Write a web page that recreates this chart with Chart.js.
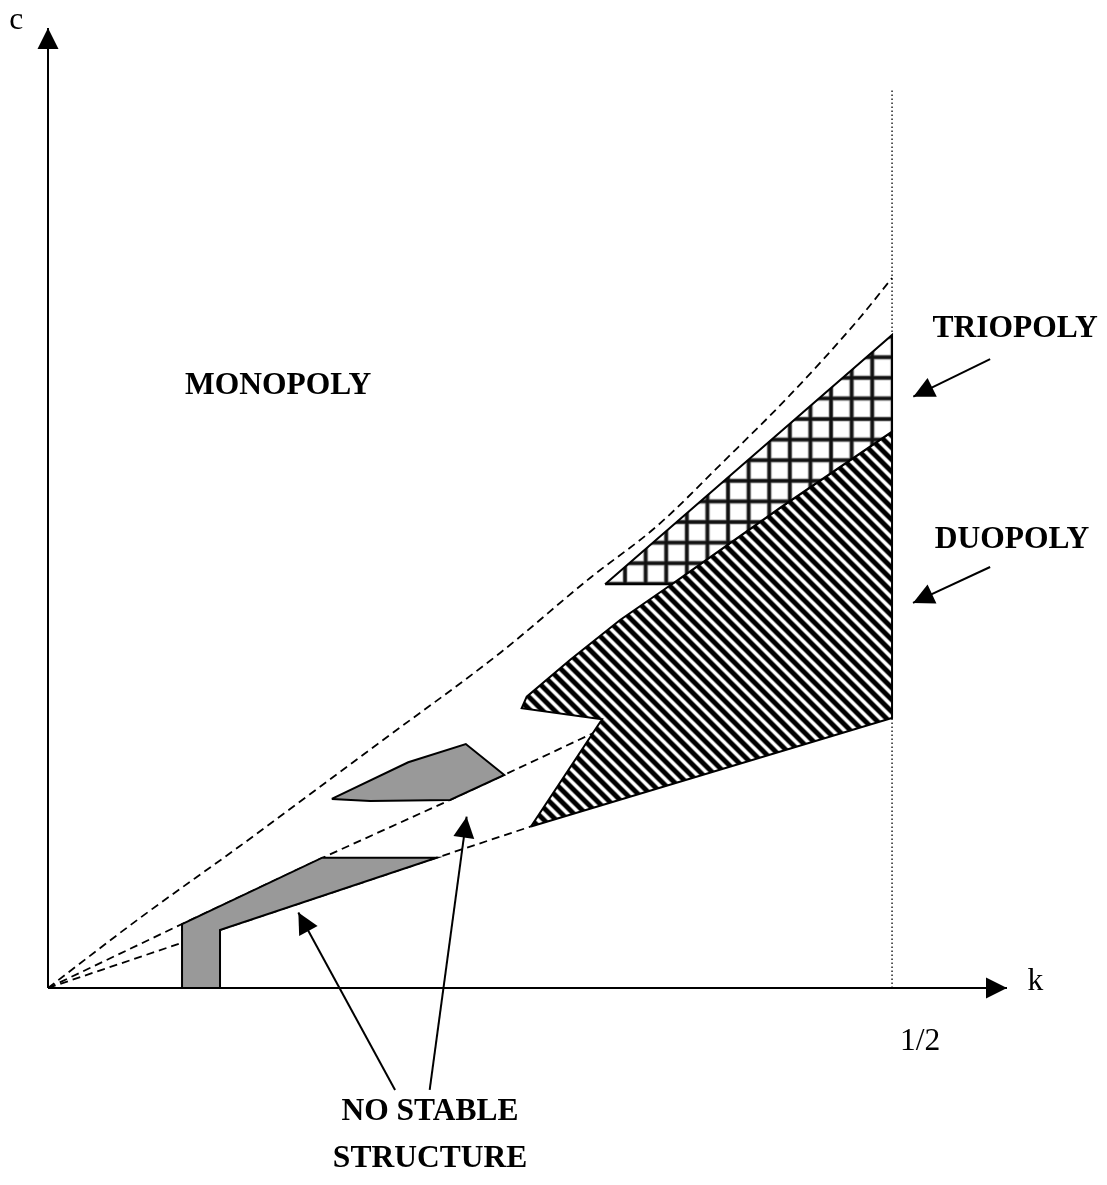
<!DOCTYPE html>
<html>
<head>
<meta charset="utf-8">
<script src="https://cdn.jsdelivr.net/npm/chart.js@4.4.0/dist/chart.umd.min.js"></script>
<style>
  html, body { margin: 0; padding: 0; background: #fff; }
  canvas { display: block; }
</style>
</head>
<body>
<canvas id="myChart" width="1107" height="1185"></canvas>
<script>
// k on the horizontal axis, c on the vertical axis (same unit on both)
const kMax = 0.5681;
const cMax = 0.5687;

// dashed boundaries starting at the origin
const monopolyK = [0, 0.0545, 0.1137, 0.1730, 0.1985, 0.2678, 0.3211, 0.3608, 0.3999, 0.4396, 0.4793, 0.5];
const monopolyC = [0, 0.0415, 0.0841, 0.1280, 0.1469, 0.1985, 0.2429, 0.2737, 0.3116, 0.3513, 0.3951, 0.4206];
const middleK = [0, 0.0794, 0.1623, 0.2382, 0.2701, 0.3258];
const middleC = [0, 0.0379, 0.0770, 0.1114, 0.1262, 0.1523];
const lowerK = [0, 0.1019, 0.2303, 0.2861];
const lowerC = [0, 0.0344, 0.0772, 0.0957];

// regions
const duopolyK = [0.2861, 0.3282, 0.2806, 0.2836, 0.3092, 0.3389, 0.3695, 0.4336, 0.5, 0.5, 0.2861];
const duopolyC = [0.0957, 0.1592, 0.1657, 0.1726, 0.1943, 0.2180, 0.2392, 0.2844, 0.3296, 0.1600, 0.0957];
const triopolyK = [0.3300, 0.3695, 0.4336, 0.5, 0.5, 0.3300];
const triopolyC = [0.2392, 0.2392, 0.2844, 0.3296, 0.3868, 0.2392];
const noStableLowK = [0.0794, 0.0794, 0.1625, 0.2303, 0.1019, 0.1019, 0.0794];
const noStableLowC = [0, 0.0379, 0.0772, 0.0772, 0.0344, 0, 0];
const noStableHighK = [0.1681, 0.2134, 0.2475, 0.2703, 0.2382, 0.1908, 0.1681];
const noStableHighC = [0.1120, 0.1337, 0.1445, 0.1262, 0.1114, 0.1108, 0.1120];

// k = 1/2 line and axes
const halfK = [0.5, 0.5];
const halfC = [0, 0.5320];
const xAxisK = [0, kMax];
const xAxisC = [0, 0];
const yAxisK = [0, 0];
const yAxisC = [0, cMax];

// pointer arrows (start, tip)
const triArrowK = [0.5581, 0.5126];
const triArrowC = [0.3726, 0.3503];
const duoArrowK = [0.5581, 0.5124];
const duoArrowC = [0.2494, 0.2281];
const nss1K = [0.2056, 0.1483];
const nss1C = [-0.0604, 0.0447];
const nss2K = [0.2261, 0.2480];
const nss2C = [-0.0604, 0.1015];

// text labels
const labelText = ['c', 'k', '1/2', 'MONOPOLY', 'TRIOPOLY', 'DUOPOLY', 'NO STABLE', 'STRUCTURE'];
const labelK = [-0.0188, 0.5849, 0.5166, 0.1363, 0.5729, 0.5711, 0.2263, 0.2263];
const labelC = [0.5680, -0.0012, -0.0367, 0.3519, 0.3855, 0.2607, -0.0782, -0.1060];
const labelBold = [false, false, false, true, true, true, true, true];

function pts(ks, cs) {
    return ks.map((k, i) => ({ x: k, y: cs[i] }));
}

// diagonal stripes for the duopoly area
function stripePattern() {
    const t = document.createElement('canvas');
    t.width = 12; t.height = 12;
    const g = t.getContext('2d');
    g.fillStyle = '#fff';
    g.fillRect(0, 0, 12, 12);
    [[5.8, '#8c8c8c'], [4.2, '#000']].forEach(([w, col]) => {
        g.strokeStyle = col;
        g.lineWidth = w;
        [-12, 0, 12].forEach(o => {
            g.beginPath();
            g.moveTo(o - 3, -3);
            g.lineTo(o + 15, 15);
            g.stroke();
        });
    });
    return g.createPattern(t, 'repeat');
}

// square grid for the triopoly area
function gridPattern() {
    const n = 21;
    const t = document.createElement('canvas');
    t.width = n; t.height = n;
    const g = t.getContext('2d');
    g.fillStyle = '#fff';
    g.fillRect(0, 0, n, n);
    g.fillStyle = '#8a8a8a';
    g.fillRect(0, 0, 2.4, n); g.fillRect(n - 2.4, 0, 2.4, n);
    g.fillRect(0, 0, n, 2.4); g.fillRect(0, n - 2.4, n, 2.4);
    g.fillStyle = '#111';
    g.fillRect(0, 0, 1.6, n); g.fillRect(n - 1.6, 0, 1.6, n);
    g.fillRect(0, 0, n, 1.6); g.fillRect(0, n - 1.6, n, 1.6);
    const p = g.createPattern(t, 'repeat');
    const s = 20.6 / n;
    p.setTransform(new DOMMatrix([s, 0, 0, s, 7, 7]));
    return p;
}

function shape(ks, cs, fillStyle) {
    return {
        data: pts(ks, cs),
        borderColor: '#000',
        borderWidth: 2,
        backgroundColor: fillStyle,
        fill: 'shape',
        tension: 0,
        borderJoinStyle: 'miter',
    };
}

function plain(ks, cs, width, dash, extra) {
    return Object.assign({
        data: pts(ks, cs),
        borderColor: '#000',
        borderWidth: width,
        borderDash: dash,
        fill: false,
        tension: 0,
    }, extra || {});
}

// draws arrow heads and the text labels
const annotate = {
    id: 'annotate',
    afterDatasetsDraw(chart) {
        const ctx = chart.ctx;
        const xs = chart.scales.x, ys = chart.scales.y;
        ctx.save();
        ctx.fillStyle = '#000';
        chart.data.datasets.forEach(ds => {
            if (!ds.arrow) return;
            const n = ds.data.length;
            const a = ds.data[n - 2], b = ds.data[n - 1];
            const x1 = xs.getPixelForValue(a.x), y1 = ys.getPixelForValue(a.y);
            const x2 = xs.getPixelForValue(b.x), y2 = ys.getPixelForValue(b.y);
            const ang = Math.atan2(y2 - y1, x2 - x1);
            const len = 21, half = 10.5;
            ctx.beginPath();
            ctx.moveTo(x2, y2);
            ctx.lineTo(x2 - len * Math.cos(ang) + half * Math.sin(ang), y2 - len * Math.sin(ang) - half * Math.cos(ang));
            ctx.lineTo(x2 - len * Math.cos(ang) - half * Math.sin(ang), y2 - len * Math.sin(ang) + half * Math.cos(ang));
            ctx.closePath();
            ctx.fill();
        });
        ctx.textAlign = 'center';
        ctx.textBaseline = 'alphabetic';
        labelText.forEach((txt, i) => {
            ctx.font = (labelBold[i] ? 'bold ' : '') + '31.5px "Liberation Serif", "Times New Roman", serif';
            ctx.fillText(txt, xs.getPixelForValue(labelK[i]), ys.getPixelForValue(labelC[i]));
        });
        ctx.restore();
    }
};

const datasets = [
    plain(xAxisK, xAxisC, 2, [], { arrow: true }),
    plain(yAxisK, yAxisC, 2, [], { arrow: true }),
    plain(triArrowK, triArrowC, 2, [], { arrow: true }),
    plain(duoArrowK, duoArrowC, 2, [], { arrow: true }),
    plain(nss1K, nss1C, 2, [], { arrow: true }),
    plain(nss2K, nss2C, 2, [], { arrow: true }),
    shape(noStableLowK, noStableLowC, '#999999'),
    shape(noStableHighK, noStableHighC, '#999999'),
    shape(triopolyK, triopolyC, gridPattern()),
    shape(duopolyK, duopolyC, stripePattern()),
    plain(halfK, halfC, 1.3, [1.4, 2.6]),
    plain(monopolyK, monopolyC, 1.8, [8, 5], { cubicInterpolationMode: 'monotone' }),
    plain(middleK, middleC, 1.8, [8, 5]),
    plain(lowerK, lowerC, 1.8, [8, 5]),
];
datasets.forEach(ds => {
    ds.pointRadius = 0;
    ds.pointHoverRadius = 0;
    ds.clip = false;
});

new Chart(document.getElementById('myChart'), {
    type: 'line',
    data: { datasets: datasets },
    plugins: [annotate],
    options: {
        responsive: false,
        animation: false,
        devicePixelRatio: 1,
        layout: { padding: { left: 48, right: 100, top: 28, bottom: 197 } },
        plugins: { legend: { display: false }, tooltip: { enabled: false } },
        events: [],
        scales: {
            x: { type: 'linear', min: 0, max: kMax, display: false },
            y: { type: 'linear', min: 0, max: cMax, display: false },
        },
    },
});
</script>
</body>
</html>
